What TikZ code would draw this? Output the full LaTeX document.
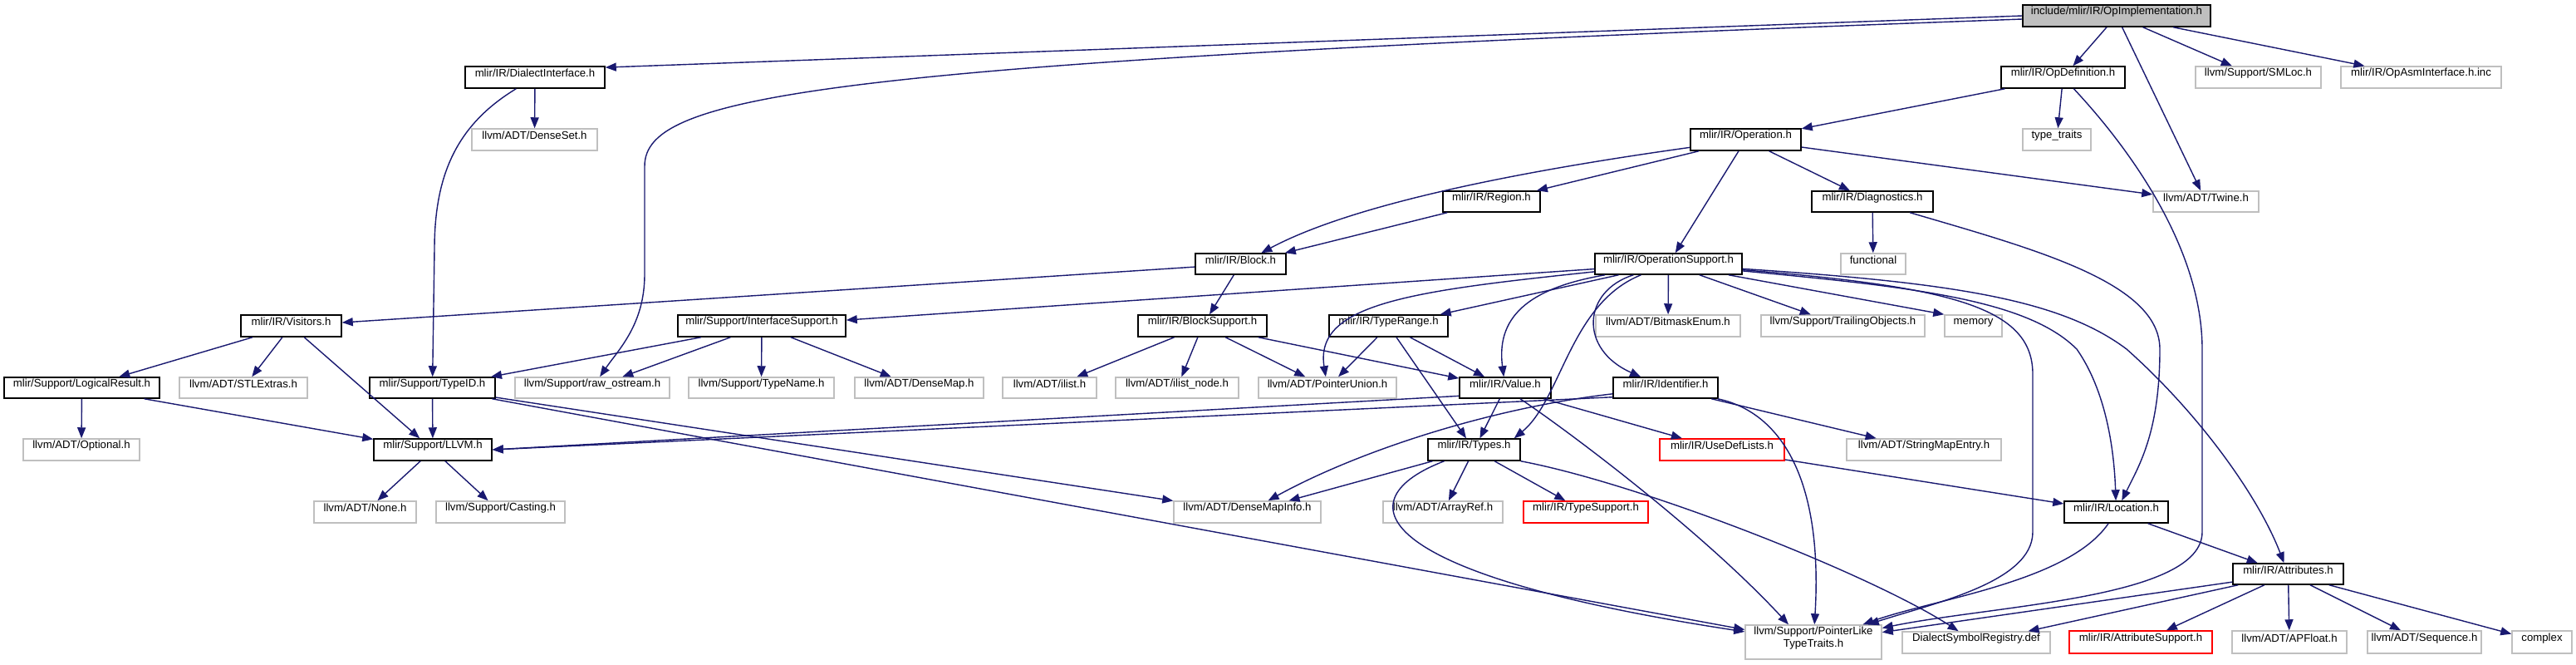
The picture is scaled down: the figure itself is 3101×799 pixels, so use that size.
\documentclass[tikz,border=0pt]{standalone}
\usepackage{fontspec}
\setmainfont{Liberation Sans}
\usetikzlibrary{arrows.meta,fit,calc}
\definecolor{edgeblue}{RGB}{25,25,112}
\definecolor{greyline}{RGB}{191,191,191}
\definecolor{rootfill}{RGB}{191,191,191}
\begin{document}
\begin{tikzpicture}[x=0.5pt,y=-0.5pt,
  gbox/.style={draw, rectangle, inner sep=0pt, line width=0.75pt, align=center,
    font=\fontsize{6.6}{7.6}\selectfont, text=black},
  docbox/.style={gbox, draw=black},
  extbox/.style={gbox, draw=greyline},
  redbox/.style={gbox, draw=red},
  rootbox/.style={docbox, fill=rootfill},
  dep/.style={draw=edgeblue, line width=0.7pt, -{Triangle[length=6.5pt,width=5pt]}}]
\useasboundingbox (0,0) rectangle (3101,799);
\fill[white] (0,0) rectangle (3101,799);

% rank 1-2
\node[rootbox, fit={(2435,6) (2661,32)}] (oi) {include/mlir/IR/OpImplementation.h};
\node[docbox, fit={(560,80) (728,106)}] (di) {mlir/IR/DialectInterface.h};
\node[docbox, fit={(2409,80) (2558,106)}] (od) {mlir/IR/OpDefinition.h};
\node[extbox, fit={(2643,80) (2794,106)}] (smloc) {llvm/Support/SMLoc.h};
\node[extbox, fit={(2818,80) (3011,106)}] (opasm) {mlir/IR/OpAsmInterface.h.inc};
% rank 3
\node[extbox, fit={(568,155) (719,181)}] (denseset) {llvm/ADT/DenseSet.h};
\node[docbox, fit={(2035,155) (2168,181)}] (op) {mlir/IR/Operation.h};
\node[extbox, fit={(2435,155) (2517,181)}] (tt) {type\_traits};
% rank 4
\node[docbox, fit={(1737,230) (1854,255)}] (region) {mlir/IR/Region.h};
\node[docbox, fit={(2181,230) (2327,255)}] (diag) {mlir/IR/Diagnostics.h};
\node[extbox, fit={(2592,230) (2719,255)}] (twine) {llvm/ADT/Twine.h};
% rank 5
\node[docbox, fit={(1439,305) (1548,330)}] (block) {mlir/IR/Block.h};
\node[docbox, fit={(1920,305) (2097,330)}] (os) {mlir/IR/OperationSupport.h};
\node[extbox, fit={(2216,305) (2294,330)}] (functional) {functional};
% rank 6
\node[docbox, fit={(290,379) (411,405)}] (visitors) {mlir/IR/Visitors.h};
\node[docbox, fit={(816,379) (1018,405)}] (is) {mlir/Support/InterfaceSupport.h};
\node[docbox, fit={(1370,379) (1525,405)}] (bs) {mlir/IR/BlockSupport.h};
\node[docbox, fit={(1600,379) (1743,405)}] (tr) {mlir/IR/TypeRange.h};
\node[extbox, fit={(1921,379) (2095,405)}] (bitmask) {llvm/ADT/BitmaskEnum.h};
\node[extbox, fit={(2120,379) (2317,405)}] (trailing) {llvm/Support/TrailingObjects.h};
\node[extbox, fit={(2341,379) (2410,405)}] (memory) {memory};
% rank 7
\node[docbox, fit={(5,454) (192,479)}] (lr) {mlir/Support/LogicalResult.h};
\node[extbox, fit={(216,454) (370,479)}] (stl) {llvm/ADT/STLExtras.h};
\node[docbox, fit={(445,454) (596,479)}] (typeid) {mlir/Support/TypeID.h};
\node[extbox, fit={(620,454) (806,479)}] (rawos) {llvm/Support/raw\_ostream.h};
\node[extbox, fit={(829,454) (1004,479)}] (typename) {llvm/Support/TypeName.h};
\node[extbox, fit={(1029,454) (1184,479)}] (densemap) {llvm/ADT/DenseMap.h};
\node[extbox, fit={(1207,454) (1320,479)}] (ilist) {llvm/ADT/ilist.h};
\node[extbox, fit={(1343,454) (1491,479)}] (ilistnode) {llvm/ADT/ilist\_node.h};
\node[extbox, fit={(1515,454) (1681,479)}] (pu) {llvm/ADT/PointerUnion.h};
\node[docbox, fit={(1757,454) (1867,479)}] (value) {mlir/IR/Value.h};
\node[docbox, fit={(1942,454) (2068,479)}] (ident) {mlir/IR/Identifier.h};
% rank 8
\node[extbox, fit={(28,528) (168,554)}] (optional) {llvm/ADT/Optional.h};
\node[docbox, fit={(450,528) (592,554)}] (llvm) {mlir/Support/LLVM.h};
\node[docbox, fit={(1719,528) (1830,554)}] (types) {mlir/IR/Types.h};
\node[redbox, fit={(1998,528) (2148,554)}] (usedef) {mlir/IR/UseDefLists.h};
\node[extbox, fit={(2223,528) (2409,554)}] (sme) {llvm/ADT/StringMapEntry.h};
% rank 9
\node[extbox, fit={(378,603) (501,629)}] (none) {llvm/ADT/None.h};
\node[extbox, fit={(525,603) (680,629)}] (casting) {llvm/Support/Casting.h};
\node[extbox, fit={(1413,603) (1590,629)}] (dmi) {llvm/ADT/DenseMapInfo.h};
\node[extbox, fit={(1665,603) (1809,629)}] (arrayref) {llvm/ADT/ArrayRef.h};
\node[redbox, fit={(1834,603) (1984,629)}] (typesupport) {mlir/IR/TypeSupport.h};
\node[docbox, fit={(2485,603) (2610,629)}] (location) {mlir/IR/Location.h};
% rank 10
\node[docbox, fit={(2688,678) (2821,703)}] (attrs) {mlir/IR/Attributes.h};
% rank 11
\node[extbox, fit={(2101,752) (2265,793)}] (plt) {llvm/Support/PointerLike\\TypeTraits.h};
\node[extbox, fit={(2290,760) (2468,786)}] (dsr) {DialectSymbolRegistry.def};
\node[redbox, fit={(2491,759) (2663,786)}] (attrsup) {mlir/IR/AttributeSupport.h};
\node[extbox, fit={(2687,759) (2825,786)}] (apfloat) {llvm/ADT/APFloat.h};
\node[extbox, fit={(2850,759) (2987,786)}] (sequence) {llvm/ADT/Sequence.h};
\node[extbox, fit={(3024,759) (3096,786)}] (complex) {complex};

% OpImplementation
\draw[dep] (oi.west) -- (di.8);
\draw[dep] ([yshift=-2pt]oi.west) .. controls (1000,75) and (776,112) .. (776,200) -- (776,330) .. controls (776,390) and (745,420) .. (rawos);
\draw[dep] (oi) -- (od);
\draw[dep] (oi) -- (twine);
\draw[dep] (oi) -- (smloc);
\draw[dep] (oi) -- (opasm);
% DialectInterface
\draw[dep] (di) -- (denseset);
\draw[dep] (di) .. controls (550,150) and (523,210) .. (523,300) -- (typeid);
% OpDefinition
\draw[dep] (od) -- (op);
\draw[dep] (od) -- (tt);
\draw[dep] (od) .. controls (2565,180) and (2651,300) .. (2651,420) -- (2651,640) .. controls (2651,720) and (2400,728) .. (plt);
% Operation
\draw[dep] (op) .. controls (1800,210) and (1620,250) .. (block);
\draw[dep] (op) -- (region);
\draw[dep] (op) -- (os);
\draw[dep] (op) -- (diag);
\draw[dep] (op) -- (twine);
% Region
\draw[dep] (region) -- (block);
% Diagnostics
\draw[dep] (diag) -- (functional);
\draw[dep] (diag) .. controls (2450,300) and (2600,340) .. (2600,420) .. controls (2600,520) and (2575,560) .. (location);
% Block
\draw[dep] (block) -- (visitors);
\draw[dep] (block) -- (bs);
% OperationSupport
\draw[dep] (os) -- (is);
\draw[dep] (os) .. controls (1700,350) and (1582,365) .. (pu);
\draw[dep] (os) -- (tr);
\draw[dep] (os) .. controls (1850,345) and (1800,375) .. (value);
\draw[dep] (os) .. controls (1890,365) and (1880,480) .. ([xshift=-4pt]types.north east);
\draw[dep] (os) .. controls (1905,350) and (1900,420) .. (ident);
\draw[dep] (os) -- (bitmask);
\draw[dep] (os) -- (trailing);
\draw[dep] (os) -- (memory.north west);
\draw[dep] (os) .. controls (2350,345) and (2447,370) .. (2447,450) -- (2447,640) .. controls (2447,700) and (2330,725) .. (plt);
\draw[dep] (os) .. controls (2300,345) and (2440,360) .. (2500,420) .. controls (2535,470) and (2545,540) .. (location);
\draw[dep] (os) .. controls (2350,340) and (2480,360) .. (2560,420) .. controls (2650,500) and (2720,600) .. (attrs);
% Visitors
\draw[dep] (visitors) -- (lr);
\draw[dep] (visitors) -- (stl);
\draw[dep] (visitors) -- (llvm);
% InterfaceSupport
\draw[dep] (is) -- (typeid);
\draw[dep] (is) -- (rawos);
\draw[dep] (is) -- (typename);
\draw[dep] (is) -- (densemap);
% BlockSupport
\draw[dep] (bs) -- (ilist);
\draw[dep] (bs) -- (ilistnode);
\draw[dep] (bs) -- (pu);
\draw[dep] (bs) -- (value);
% TypeRange
\draw[dep] (tr) -- (pu);
\draw[dep] (tr) -- (value);
\draw[dep] (tr) -- (types);
% LogicalResult
\draw[dep] (lr) -- (optional);
\draw[dep] (lr) -- (llvm);
% TypeID
\draw[dep] (typeid) -- (llvm);
\draw[dep] (typeid) -- (dmi);
\draw[dep] (typeid) -- (plt);
% Value
\draw[dep] (value.-170) -- (llvm.east);
\draw[dep] (value) -- (types);
\draw[dep] (value) -- (usedef);
\draw[dep] ([xshift=9pt]value.south) .. controls (1890,520) and (2050,640) .. ([xshift=-15pt]plt.north);
% Identifier
\draw[dep] (ident.-170) -- (llvm.east);
\draw[dep] (ident) .. controls (1800,490) and (1640,540) .. (dmi);
\draw[dep] (ident) -- (sme);
\draw[dep] (ident) .. controls (2140,495) and (2195,570) .. (plt);
% LLVM
\draw[dep] (llvm) -- (none);
\draw[dep] (llvm) -- (casting);
% Types
\draw[dep] (types) -- (dmi);
\draw[dep] (types) -- (arrayref);
\draw[dep] (types) -- (typesupport);
\draw[dep] (types) .. controls (1620,600) and (1640,690) .. (plt);
\draw[dep] (types.south east) .. controls (1975,582) and (2250,690) .. (dsr);
% UseDefLists
\draw[dep] (usedef) -- (location);
% Location
\draw[dep] (location) .. controls (2490,700) and (2330,720) .. (plt);
\draw[dep] (location) -- (attrs);
% Attributes
\draw[dep] (attrs) -- (plt);
\draw[dep] (attrs) -- (dsr);
\draw[dep] (attrs) -- (attrsup);
\draw[dep] (attrs) -- (apfloat);
\draw[dep] (attrs) -- (sequence);
\draw[dep] (attrs) -- (complex);
\end{tikzpicture}
\end{document}
